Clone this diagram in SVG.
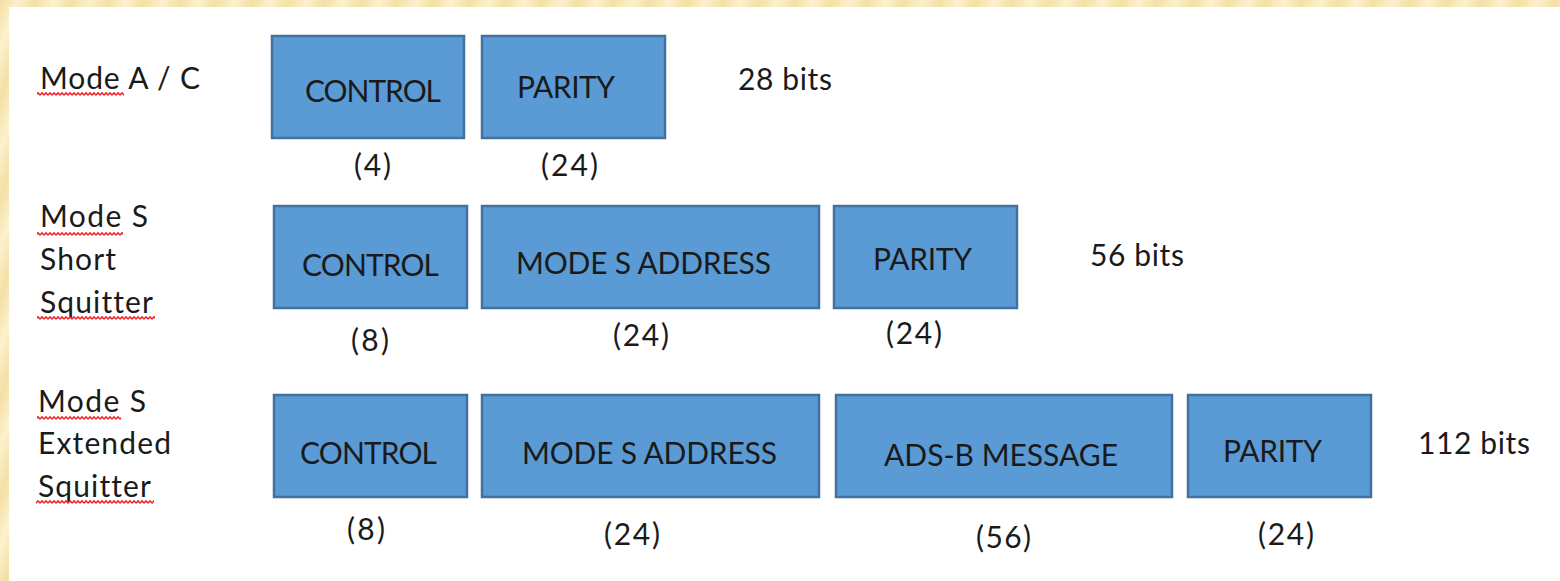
<svg xmlns="http://www.w3.org/2000/svg" width="1560" height="581" viewBox="0 0 1560 581">
  <defs>
    <linearGradient id="stripeGrad" x1="0" y1="0" x2="1" y2="0">
      <stop offset="0" stop-color="#F4E0A4"/>
      <stop offset="0.5" stop-color="#FCF1CE"/>
      <stop offset="1" stop-color="#F4E0A4"/>
    </linearGradient>
    <pattern id="bgStripes" width="34" height="34" patternUnits="userSpaceOnUse" patternTransform="rotate(20)">
      <rect width="34" height="34" fill="url(#stripeGrad)"/>
    </pattern>
    <pattern id="wave" width="4" height="4" patternUnits="userSpaceOnUse">
      <path d="M0,3.2 L2,0.8 L4,3.2" stroke="#E8262A" stroke-width="1.5" fill="none"/>
    </pattern>
    <style>
      .box { fill: #5B9BD5; stroke: #41719C; stroke-width: 2.5; }
      .t { font-family: Lato, "Open Sans", "Liberation Sans", sans-serif; font-size: 30px; fill: #1A1A1A; font-variant-ligatures: none; font-feature-settings: "liga" 0, "clig" 0; }
      .wv { fill: url(#wave); }
    </style>
  </defs>

  <rect x="0" y="0" width="1560" height="581" fill="url(#bgStripes)"/>
  <rect x="9" y="7" width="1551" height="574" fill="#FFFFFF"/>

  <!-- Row labels -->
  <g id="label-modeac">
    <text class="t" x="40" y="89" textLength="160" lengthAdjust="spacing">Mode A / C</text>
    <rect class="wv" x="37" y="92" width="87" height="4"/>
  </g>
  <g id="label-short">
    <text class="t" x="40" y="227" textLength="108" lengthAdjust="spacing">Mode S</text>
    <text class="t" x="40" y="270" textLength="76" lengthAdjust="spacing">Short</text>
    <text class="t" x="40" y="313" textLength="113" lengthAdjust="spacing">Squitter</text>
    <rect class="wv" x="37" y="232" width="86" height="4"/>
    <rect class="wv" x="37" y="316" width="118" height="4"/>
  </g>
  <g id="label-extended">
    <text class="t" x="38" y="412" textLength="108" lengthAdjust="spacing">Mode S</text>
    <text class="t" x="38" y="454" textLength="133" lengthAdjust="spacing">Extended</text>
    <text class="t" x="38" y="497" textLength="113" lengthAdjust="spacing">Squitter</text>
    <rect class="wv" x="37" y="416" width="84" height="4"/>
    <rect class="wv" x="36" y="500" width="118" height="4"/>
  </g>

  <!-- Row 1: Mode A / C -->
  <g id="r1-control">
    <rect class="box" x="272" y="36" width="192" height="102"/>
    <text class="t" x="305" y="102" textLength="136" lengthAdjust="spacing">CONTROL</text>
    <text class="t" x="354" y="176" textLength="37" lengthAdjust="spacing">(4)</text>
  </g>
  <g id="r1-parity">
    <rect class="box" x="482" y="36" width="183" height="102"/>
    <text class="t" x="517" y="98" textLength="98" lengthAdjust="spacing">PARITY</text>
    <text class="t" x="541" y="176" textLength="57" lengthAdjust="spacing">(24)</text>
  </g>
  <g id="r1-total">
    <text class="t" x="738" y="90" textLength="94" lengthAdjust="spacing">28 bits</text>
  </g>

  <!-- Row 2: Mode S Short Squitter -->
  <g id="r2-control">
    <rect class="box" x="274" y="206" width="193" height="102"/>
    <text class="t" x="302" y="276" textLength="137" lengthAdjust="spacing">CONTROL</text>
    <text class="t" x="351" y="351" textLength="38" lengthAdjust="spacing">(8)</text>
  </g>
  <g id="r2-address">
    <rect class="box" x="482" y="206" width="337" height="102"/>
    <text class="t" x="516" y="274" textLength="255" lengthAdjust="spacing">MODE S ADDRESS</text>
    <text class="t" x="613" y="346" textLength="56" lengthAdjust="spacing">(24)</text>
  </g>
  <g id="r2-parity">
    <rect class="box" x="834" y="206" width="183" height="102"/>
    <text class="t" x="873" y="270" textLength="99" lengthAdjust="spacing">PARITY</text>
    <text class="t" x="886" y="344" textLength="56" lengthAdjust="spacing">(24)</text>
  </g>
  <g id="r2-total">
    <text class="t" x="1090" y="266" textLength="94" lengthAdjust="spacing">56 bits</text>
  </g>

  <!-- Row 3: Mode S Extended Squitter -->
  <g id="r3-control">
    <rect class="box" x="274" y="395" width="193" height="102"/>
    <text class="t" x="300" y="464" textLength="137" lengthAdjust="spacing">CONTROL</text>
    <text class="t" x="347" y="540" textLength="38" lengthAdjust="spacing">(8)</text>
  </g>
  <g id="r3-address">
    <rect class="box" x="482" y="395" width="337" height="102"/>
    <text class="t" x="522" y="464" textLength="255" lengthAdjust="spacing">MODE S ADDRESS</text>
    <text class="t" x="604" y="545" textLength="56" lengthAdjust="spacing">(24)</text>
  </g>
  <g id="r3-adsb">
    <rect class="box" x="836" y="395" width="336" height="102"/>
    <text class="t" x="884" y="466" textLength="234" lengthAdjust="spacing">ADS-B MESSAGE</text>
    <text class="t" x="976" y="548" textLength="55" lengthAdjust="spacing">(56)</text>
  </g>
  <g id="r3-parity">
    <rect class="box" x="1188" y="395" width="183" height="102"/>
    <text class="t" x="1223" y="462" textLength="99" lengthAdjust="spacing">PARITY</text>
    <text class="t" x="1258" y="545" textLength="56" lengthAdjust="spacing">(24)</text>
  </g>
  <g id="r3-total">
    <text class="t" x="1418" y="454" textLength="112" lengthAdjust="spacing">112 bits</text>
  </g>

  <g id="connectors"></g>
</svg>
